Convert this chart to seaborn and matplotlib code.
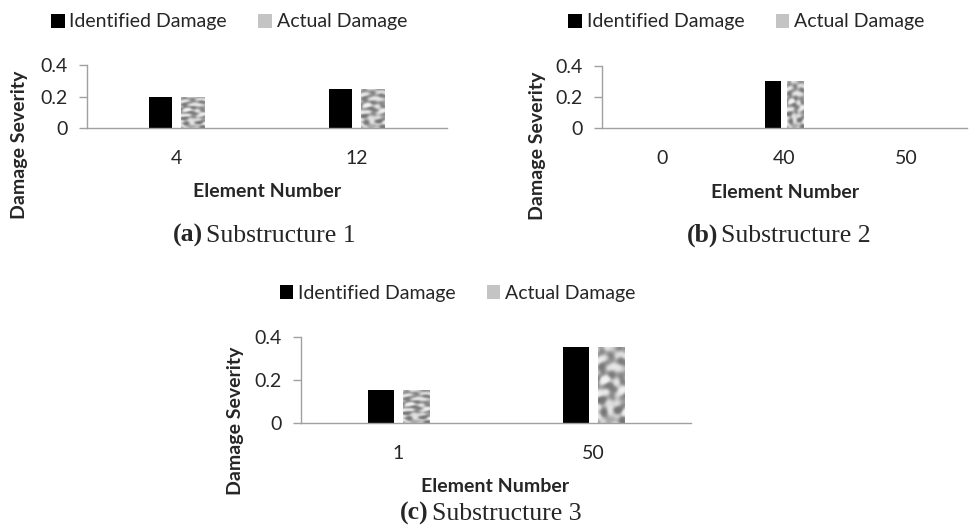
import numpy as np
import pandas as pd
import matplotlib
matplotlib.use("Agg")
import matplotlib.pyplot as plt
from matplotlib.patches import Patch
import seaborn as sns

# ---- data ----
series_names = ["Identified Damage", "Actual Damage"]

cats_a = ["4", "12"]
ident_a = [0.20, 0.25]
actual_a = [0.20, 0.25]

cats_b = ["0", "40", "50"]
ident_b = [0.0, 0.30, 0.0]
actual_b = [0.0, 0.30, 0.0]

cats_c = ["1", "50"]
ident_c = [0.15, 0.35]
actual_c = [0.15, 0.35]

y_ticks = [0, 0.2, 0.4]
y_tick_labels = ["0", "0.2", "0.4"]

captions = [("(a)", "Substructure 1"), ("(b)", "Substructure 2"), ("(c)", "Substructure 3")]

sns.set_style("white")
plt.rcParams["font.family"] = ["Lato", "DejaVu Sans"]

W, H = 971, 525
fig = plt.figure(figsize=(W / 100, H / 100), dpi=100)

def px(x, y):
    return x / W, 1 - y / H

SPINE = "#a0a0a0"
BLACK = "#000000"
GRAY = "#bdbdbd"

# deterministic mottled texture (styling only, not data)
yy, xx = np.mgrid[0:120, 0:40] / 4.0
waves = [(0.93, 0.37, 0.3), (-0.41, 1.07, 1.9), (0.61, -0.83, 4.1),
         (1.29, 0.71, 2.7), (-0.77, -0.58, 5.3), (0.19, 1.41, 0.8),
         (1.13, -0.29, 3.6)]
field = np.zeros_like(xx)
for a, b, c in waves:
    field += np.sin(a * xx + b * yy + c + 0.8 * np.sin(0.7 * b * xx - 0.6 * a * yy))
field = field / np.abs(field).max()
tex = 0.70 + 0.26 * np.tanh(2.2 * field)


def panel(rect_px, cats, ident, actual):
    l, t, r, b = rect_px
    ax = fig.add_axes([l / W, 1 - b / H, (r - l) / W, (b - t) / H])
    df = pd.DataFrame({
        "Element": cats * 2,
        "Severity": list(ident) + list(actual),
        "Damage": [series_names[0]] * len(cats) + [series_names[1]] * len(cats),
    })
    sns.barplot(data=df, x="Element", y="Severity", hue="Damage", order=cats,
                hue_order=series_names, palette=[BLACK, GRAY], width=0.36, gap=0.26,
                linewidth=0, legend=False, ax=ax, saturation=1)
    # texture for actual damage bars
    for p in ax.containers[1]:
        h = p.get_height()
        if h <= 0:
            continue
        x0 = p.get_x(); w = p.get_width()
        im = ax.imshow(tex, extent=[x0, x0 + w, 0, h], aspect="auto", cmap="gray",
                       vmin=0, vmax=1, interpolation="bicubic", zorder=p.get_zorder() + 0.1)
        im.set_clip_path(p)
    n = len(cats)
    ax.set_xlim(-0.5, n - 0.5)
    ax.set_ylim(0, 0.4)
    ax.set_xticks(range(n))
    ax.set_xticklabels(cats, fontsize=14)
    ax.set_xticks(np.arange(-0.5, n, 1.0), minor=True)
    ax.tick_params(axis="x", which="major", length=0, pad=16)
    ax.tick_params(axis="x", which="minor", length=3.8, width=1, color=SPINE, direction="out")
    ax.set_yticks(y_ticks)
    ax.set_yticklabels(y_tick_labels, fontsize=14)
    ax.tick_params(axis="y", length=5.5, width=1, color=SPINE, pad=8, left=True)
    for s in ["top", "right"]:
        ax.spines[s].set_visible(False)
    for s in ["left", "bottom"]:
        ax.spines[s].set_color(SPINE)
        ax.spines[s].set_linewidth(1)
    ax.set_xlabel("")
    ax.set_ylabel("")
    ax.set_facecolor("white")
    return ax


ax_a = panel((86.7, 65.0, 446.7, 128.0), cats_a, ident_a, actual_a)
ax_b = panel((601.7, 65.7, 966.7, 128.0), cats_b, ident_b, actual_b)
ax_c = panel((300.7, 336.7, 691.3, 422.7), cats_c, ident_c, actual_c)

handles = [Patch(facecolor=BLACK, edgecolor="none"), Patch(facecolor="#c4c4c4", edgecolor="none")]

def legend(ax, cx, cy):
    ax.legend(handles, series_names, loc="center", bbox_to_anchor=px(cx, cy),
              bbox_transform=fig.transFigure, ncol=2, frameon=False, fontsize=14,
              handlelength=0.7, handleheight=0.7, handletextpad=0.25, columnspacing=1.6,
              borderpad=0, borderaxespad=0)

legend(ax_a, 229, 22)
legend(ax_b, 746.5, 22)
legend(ax_c, 457.7, 293.3)

# axis labels
for (x, y) in [(20, 145), (537, 146), (235.7, 421)]:
    fx, fy = px(x, y)
    fig.text(fx, fy, "Damage Severity", rotation=90, ha="center", va="center",
             fontsize=14, fontweight="bold")
for (x, y) in [(266.7, 197), (785, 198), (495, 491.7)]:
    fx, fy = px(x, y)
    fig.text(fx, fy, "Element Number", ha="center", va="baseline",
             fontsize=14, fontweight="bold")

# captions
serif = ["Liberation Serif", "DejaVu Serif"]
for (lab, txt), (xs, yb) in zip(captions, [(204.5, 241.7), (719.5, 241.7), (430, 520)]):
    fx, fy = px(xs, yb)
    fig.text(fx - 1.5 / W, fy, lab, ha="right", va="baseline", fontsize=18.5,
             fontweight="bold", family=serif)
    fig.text(fx + 1.5 / W, fy, txt, ha="left", va="baseline", fontsize=18.5, family=serif)

fig.savefig("out.png", dpi=100, facecolor="white")
